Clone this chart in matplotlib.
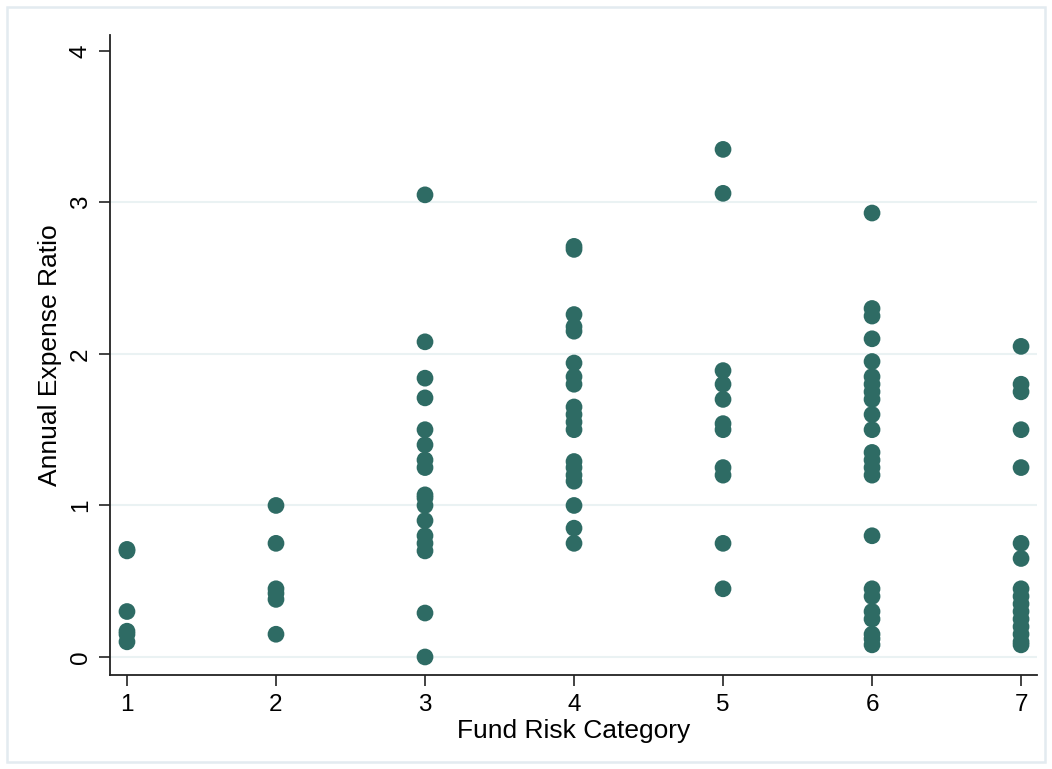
import matplotlib
matplotlib.use("Agg")
import matplotlib.pyplot as plt
from matplotlib.patches import Rectangle

plt.rcParams['font.family'] = ['Liberation Sans', 'DejaVu Sans']

risk1 = [0.71, 0.70, 0.30, 0.17, 0.15, 0.10]
risk2 = [1.00, 0.75, 0.45, 0.42, 0.38, 0.15]
risk3 = [3.05, 2.08, 1.84, 1.71, 1.50, 1.40, 1.30, 1.25, 1.07, 1.05, 1.00,
         0.90, 0.80, 0.75, 0.70, 0.29, 0.00]
risk4 = [2.71, 2.69, 2.26, 2.18, 2.15, 1.94, 1.85, 1.80, 1.65, 1.60, 1.55,
         1.50, 1.29, 1.25, 1.20, 1.16, 1.00, 0.85, 0.75]
risk5 = [3.35, 3.06, 1.89, 1.80, 1.70, 1.54, 1.50, 1.25, 1.20, 0.75, 0.45]
risk6 = [2.93, 2.30, 2.25, 2.10, 1.95, 1.85, 1.80, 1.75, 1.70, 1.60, 1.50,
         1.35, 1.30, 1.25, 1.20, 0.80, 0.45, 0.40, 0.30, 0.25, 0.15, 0.12, 0.08]
risk7 = [2.05, 1.80, 1.75, 1.50, 1.25, 0.75, 0.65, 0.45, 0.40, 0.35, 0.30,
         0.25, 0.20, 0.15, 0.10, 0.08]

categories = [1, 2, 3, 4, 5, 6, 7]
series = [risk1, risk2, risk3, risk4, risk5, risk6, risk7]
yticks = [0, 1, 2, 3, 4]

fig = plt.figure(figsize=(10.52, 7.69), dpi=100)
fig.patch.set_facecolor('white')
# outer frame
fig.patches.append(Rectangle((7/1052, 7/769), 1 - 14/1052, 1 - 14/769,
                             transform=fig.transFigure, fill=False,
                             edgecolor='#E3EBF0', linewidth=1.8))

ax = fig.add_axes([110/1052, 1 - 675/769, (1037 - 110)/1052, (675 - 35)/769])

xs, ys = [], []
for c, vals in zip(categories, series):
    xs.extend([c] * len(vals))
    ys.extend(vals)

for t in yticks[:-1]:
    ax.axhline(t, color='#EAF2F3', linewidth=1.5, zorder=0)

ax.scatter(xs, ys, s=145, color='#2E6B64', edgecolors='none', zorder=3)

ax.set_xlim(0.886, 7.107)
ax.set_ylim(-0.119, 4.105)
ax.set_xticks(categories)
ax.set_yticks(yticks)
ax.spines['top'].set_visible(False)
ax.spines['right'].set_visible(False)
for s in ['left', 'bottom']:
    ax.spines[s].set_linewidth(1.3)
    ax.spines[s].set_color('#222222')
ax.tick_params(axis='both', length=8, width=1.2, color='#222222',
               labelsize=17.5)
ax.tick_params(axis='x', pad=6)
ax.tick_params(axis='y', labelrotation=90, pad=5)
for lbl in ax.get_yticklabels():
    lbl.set_va('center')
ax.set_xlabel('Fund Risk Category', fontsize=19, labelpad=2)
ax.set_ylabel('Annual Expense Ratio', fontsize=19, labelpad=6)

fig.savefig('out.png', dpi=100, facecolor='white')
